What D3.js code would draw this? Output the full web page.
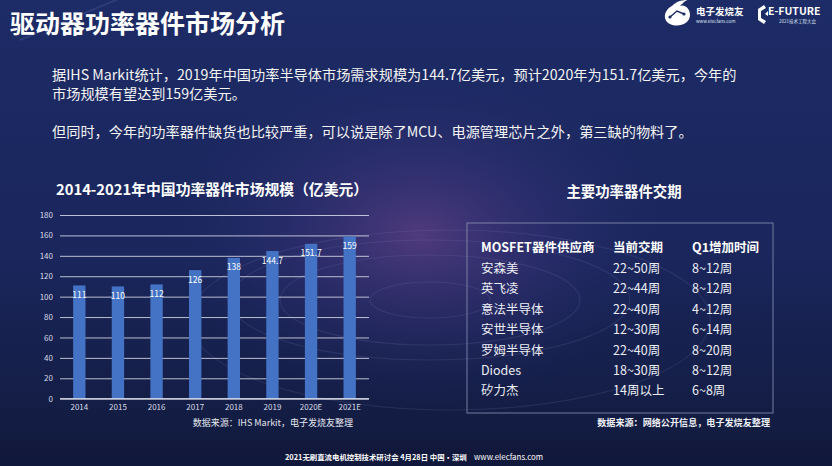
<!DOCTYPE html>
<html>
<head>
<meta charset="utf-8">
<script src="https://cdn.jsdelivr.net/npm/d3@7"></script>
<style>
  html, body { margin: 0; padding: 0; background: #141d45; }
  svg { display: block; }
  text { font-family: "Noto Sans CJK SC", "Noto Sans", sans-serif; }
</style>
</head>
<body>
<div id="slide"></div>
<script>
// chart data
var years = ['2014', '2015', '2016', '2017', '2018', '2019', '2020E', '2021E'];
var marketSize = [111, 110, 112, 126, 138, 144.7, 151.7, 159];
var valueLabels = ['111', '110', '112', '126', '138', '144.7', '151.7', '159'];
var yTicks = [0, 20, 40, 60, 80, 100, 120, 140, 160, 180];

// lead time table
var tableHeader = ['MOSFET器件供应商', '当前交期', 'Q1增加时间'];
var suppliers = ['安森美', '英飞凌', '意法半导体', '安世半导体', '罗姆半导体', 'Diodes', '矽力杰'];
var currentLead = ['22~50周', '22~44周', '22~40周', '12~30周', '22~40周', '18~30周', '14周以上'];
var q1Increase = ['8~12周', '8~12周', '4~12周', '6~14周', '8~20周', '8~12周', '6~8周'];

var paragraph = [
  '据IHS Markit统计，2019年中国功率半导体市场需求规模为144.7亿美元，预计2020年为151.7亿美元，今年的',
  '市场规模有望达到159亿美元。',
  '',
  '但同时，今年的功率器件缺货也比较严重，可以说是除了MCU、电源管理芯片之外，第三缺的物料了。'
];
var paragraphY = [80, 99, 0, 137];

var W = 832, H = 466;

var svg = d3.select('#slide').append('svg')
    .attr('width', W)
    .attr('height', H);

// background
var defs = svg.append('defs');

var bg = defs.append('linearGradient')
    .attr('id', 'bg')
    .attr('x1', 0).attr('y1', 0).attr('x2', 0).attr('y2', 1);
bg.append('stop').attr('offset', '0%').attr('stop-color', '#1d2b66');
bg.append('stop').attr('offset', '55%').attr('stop-color', '#1a265c');
bg.append('stop').attr('offset', '100%').attr('stop-color', '#111a3c');

var glow = defs.append('radialGradient')
    .attr('id', 'glow')
    .attr('cx', 0.5).attr('cy', 0.5).attr('r', 0.5);
glow.append('stop').attr('offset', '0%').attr('stop-color', '#7a4a96').attr('stop-opacity', 0.55);
glow.append('stop').attr('offset', '50%').attr('stop-color', '#4a3a86').attr('stop-opacity', 0.3);
glow.append('stop').attr('offset', '100%').attr('stop-color', '#2a2f70').attr('stop-opacity', 0);

svg.append('rect')
    .attr('width', W)
    .attr('height', H)
    .attr('fill', 'url(#bg)');

svg.append('ellipse')
    .attr('cx', 420).attr('cy', 235)
    .attr('rx', 250).attr('ry', 170)
    .attr('fill', 'url(#glow)');

// faint rings in the background
var rings = svg.append('g')
    .attr('fill', 'none')
    .attr('stroke', '#9aa6e0')
    .attr('stroke-opacity', 0.12);

[[430, 300, 200, 60], [430, 300, 150, 45], [450, 320, 260, 90], [430, 300, 60, 18]].forEach(function (r) {
  rings.append('ellipse')
      .attr('cx', r[0]).attr('cy', r[1])
      .attr('rx', r[2]).attr('ry', r[3])
      .attr('stroke-width', 1.2);
});

svg.append('line')
    .attr('x1', 20).attr('y1', 40).attr('x2', 140).attr('y2', -10)
    .attr('stroke', '#8fa0e8').attr('stroke-opacity', 0.15).attr('stroke-width', 2);

svg.append('rect')
    .attr('x', 0).attr('y', 440)
    .attr('width', W).attr('height', 26)
    .attr('fill', '#10183a')
    .attr('opacity', 0.6);

// slide title
svg.append('text')
    .attr('x', 10)
    .attr('y', 33)
    .attr('fill', '#ffffff')
    .attr('font-size', 25)
    .attr('font-weight', 'bold')
    .text('驱动器功率器件市场分析');

// logos
var logo = svg.append('g');

logo.append('path')
    .attr('d', 'M672,6 C664,10 662,20 670,24 C678,28 690,24 690,15 C690,8 684,4 680,6 C684,2 686,0 688,0 C680,0 676,2 672,6 Z')
    .attr('fill', '#ffffff');

logo.append('path')
    .attr('d', 'M670,17 L677,11 L684,14')
    .attr('fill', 'none')
    .attr('stroke', '#1d2b64')
    .attr('stroke-width', 1.4);

logo.append('circle').attr('cx', 670).attr('cy', 17).attr('r', 1.6).attr('fill', '#1d2b64');
logo.append('circle').attr('cx', 684).attr('cy', 14).attr('r', 1.6).attr('fill', '#1d2b64');

logo.append('text')
    .attr('x', 696).attr('y', 15)
    .attr('fill', '#ffffff')
    .attr('font-size', 9.5)
    .attr('font-weight', 'bold')
    .text('电子发烧友');

logo.append('text')
    .attr('x', 696).attr('y', 23)
    .attr('fill', '#dfe3f2')
    .attr('font-size', 4.5)
    .attr('font-family', 'Liberation Sans, sans-serif')
    .text('www.elecfans.com');

logo.append('path')
    .attr('d', 'M764,5 L758,9 L758,20 L764,24 L766,21 L761,18 L761,11 L766,8 Z')
    .attr('fill', '#ffffff');

logo.append('path')
    .attr('d', 'M765,14 L768,11 L768,16 Z')
    .attr('fill', '#ffffff');

logo.append('text')
    .attr('x', 768).attr('y', 15)
    .attr('fill', '#ffffff')
    .attr('font-size', 10.5)
    .attr('font-weight', 'bold')
    .attr('font-family', 'Liberation Sans, sans-serif')
    .text('E-FUTURE');

logo.append('text')
    .attr('x', 779).attr('y', 23)
    .attr('fill', '#dfe3f2')
    .attr('font-size', 4.5)
    .text('2021技术工程大会');

// paragraph
svg.append('g')
  .selectAll('text')
    .data(paragraph)
    .enter()
  .append('text')
    .attr('x', 52)
    .attr('y', function (d, i) { return paragraphY[i]; })
    .attr('fill', '#f4f4f4')
    .attr('font-size', 14.2)
    .text(function (d) { return d; });

// bar chart
var chart = { left: 60, right: 369, top: 215, bottom: 398.7 };

var x = d3.scaleBand()
    .domain(years)
    .range([chart.left, chart.right])
    .paddingInner(0.68)
    .paddingOuter(0.34);

var y = d3.scaleLinear()
    .domain([0, 180])
    .range([chart.bottom, chart.top]);

svg.append('text')
    .attr('x', 212)
    .attr('y', 195)
    .attr('text-anchor', 'middle')
    .attr('fill', '#ffffff')
    .attr('font-size', 14.8)
    .attr('font-weight', 'bold')
    .text('2014-2021年中国功率器件市场规模（亿美元）');

var yAxis = svg.append('g')
    .attr('transform', 'translate(' + chart.left + ',0)')
    .call(d3.axisLeft(y)
      .tickValues(yTicks)
      .tickSize(-(chart.right - chart.left))
      .tickPadding(7));

yAxis.select('.domain').remove();
yAxis.selectAll('.tick line')
    .attr('stroke', '#d8dbe8')
    .attr('stroke-opacity', 0.85)
    .attr('stroke-width', 1);
yAxis.selectAll('.tick text')
    .attr('fill', '#d9dce8')
    .attr('font-size', 8)
    .attr('font-family', 'Liberation Sans, sans-serif');

var bars = svg.append('g');

bars.selectAll('rect')
    .data(marketSize)
    .enter()
  .append('rect')
    .attr('x', function (d, i) { return x(years[i]); })
    .attr('y', function (d) { return y(d); })
    .attr('width', x.bandwidth())
    .attr('height', function (d) { return y(0) - y(d); })
    .attr('fill', '#4472c4');

bars.selectAll('text')
    .data(marketSize)
    .enter()
  .append('text')
    .attr('x', function (d, i) { return x(years[i]) + x.bandwidth() / 2; })
    .attr('y', function (d) { return y(d) + 12.5; })
    .attr('text-anchor', 'middle')
    .attr('fill', '#ffffff')
    .attr('font-size', 8.5)
    .attr('font-family', 'Liberation Sans, sans-serif')
    .text(function (d, i) { return valueLabels[i]; });

// redraw the baseline over the bars
svg.append('line')
    .attr('x1', chart.left).attr('x2', chart.right)
    .attr('y1', y(0)).attr('y2', y(0))
    .attr('stroke', '#e4e6f0')
    .attr('stroke-width', 1);

var xAxis = svg.append('g')
    .attr('transform', 'translate(0,' + y(0) + ')')
    .call(d3.axisBottom(x).tickSize(0).tickPadding(6));

xAxis.select('.domain').remove();
xAxis.selectAll('.tick text')
    .attr('fill', '#d9dce8')
    .attr('font-size', 8)
    .attr('font-family', 'Liberation Sans, sans-serif');

svg.append('text')
    .attr('x', 353)
    .attr('y', 426)
    .attr('text-anchor', 'end')
    .attr('fill', '#e6e8f0')
    .attr('font-size', 9)
    .text('数据来源：IHS Markit，电子发烧友整理');

// lead time table
svg.append('text')
    .attr('x', 624)
    .attr('y', 197)
    .attr('text-anchor', 'middle')
    .attr('fill', '#ffffff')
    .attr('font-size', 14.4)
    .attr('font-weight', 'bold')
    .text('主要功率器件交期');

svg.append('rect')
    .attr('x', 467)
    .attr('y', 223)
    .attr('width', 306)
    .attr('height', 190)
    .attr('fill', 'none')
    .attr('stroke', '#8d93b4')
    .attr('stroke-opacity', 0.8)
    .attr('stroke-width', 1);

var rows = suppliers.map(function (s, i) {
  return [s, currentLead[i], q1Increase[i]];
});

var rowY = d3.scaleLinear()
    .domain([0, 1])
    .range([273, 293.4]);

var colX = d3.scaleOrdinal()
    .domain([0, 1, 2])
    .range([481, 613, 692]);

svg.append('g')
  .selectAll('text')
    .data(tableHeader)
    .enter()
  .append('text')
    .attr('x', function (d, i) { return colX(i); })
    .attr('y', 252)
    .attr('fill', '#ffffff')
    .attr('font-size', 12.5)
    .attr('font-weight', 'bold')
    .text(function (d) { return d; });

var rowGroups = svg.append('g')
  .selectAll('g')
    .data(rows)
    .enter()
  .append('g')
    .attr('transform', function (d, i) { return 'translate(0,' + rowY(i) + ')'; });

rowGroups.selectAll('text')
    .data(function (d) { return d; })
    .enter()
  .append('text')
    .attr('x', function (d, i) { return colX(i); })
    .attr('fill', '#eceef5')
    .attr('font-size', 12.5)
    .text(function (d) { return d; });

svg.append('text')
    .attr('x', 770)
    .attr('y', 426)
    .attr('text-anchor', 'end')
    .attr('fill', '#eef0f6')
    .attr('font-size', 9.1)
    .attr('font-weight', 'bold')
    .text('数据来源：网络公开信息，电子发烧友整理');

// footer
svg.append('text')
    .attr('x', 285)
    .attr('y', 460)
    .attr('fill', '#ffffff')
    .attr('font-size', 7.4)
    .attr('font-weight', 'bold')
    .text('2021无刷直流电机控制技术研讨会  4月28日 中国·深圳');

svg.append('text')
    .attr('x', 474)
    .attr('y', 460)
    .attr('fill', '#ffffff')
    .attr('font-size', 7.9)
    .attr('font-family', 'Liberation Sans, sans-serif')
    .text('www.elecfans.com');
</script>
</body>
</html>
